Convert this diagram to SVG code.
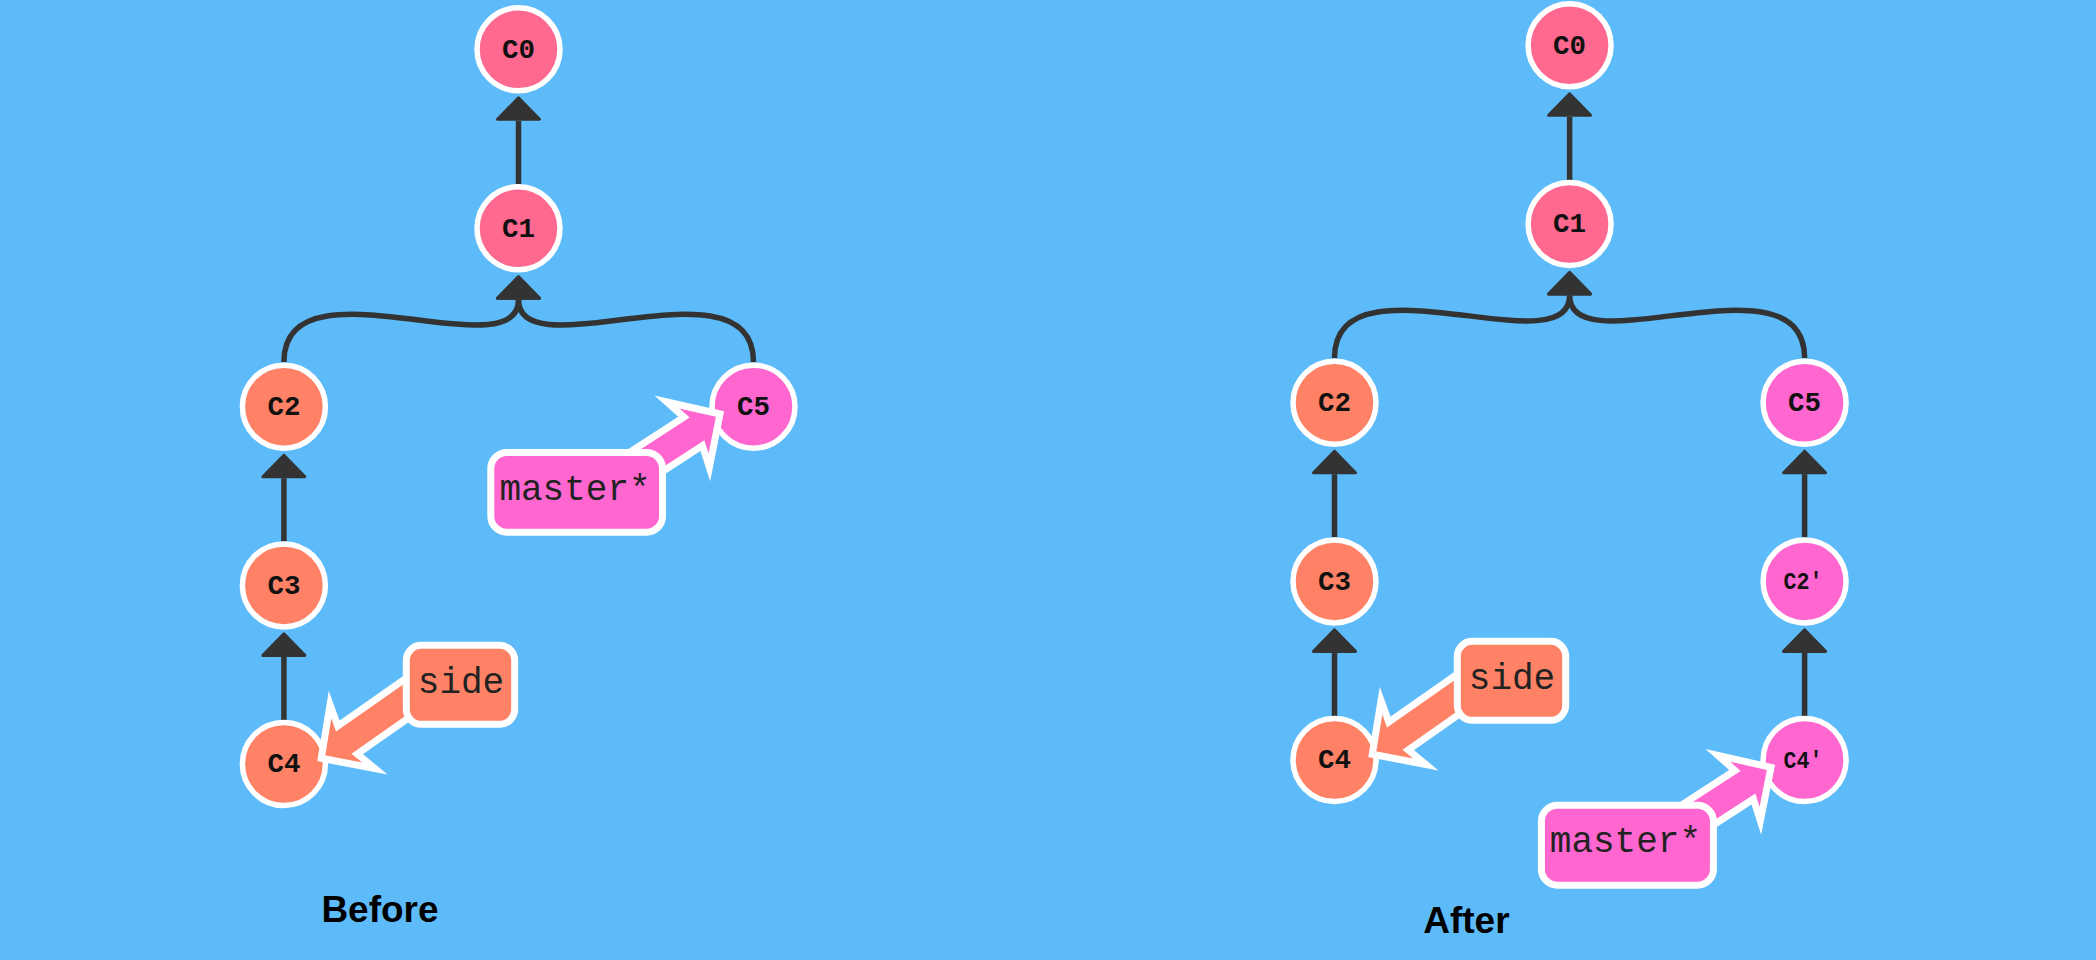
<svg xmlns="http://www.w3.org/2000/svg" width="2096" height="960" viewBox="0 0 2096 960">
  <defs>
    <style>
      .edge { fill: none; stroke: #333333; stroke-width: 5.5; marker-end: url(#ah); }
      .commit { stroke: #ffffff; stroke-width: 5.5; }
      .base { fill: #ff6990; }
      .side { fill: #ff8266; }
      .main { fill: #ff66d0; }
      .clabel { font-family: "Liberation Mono", "DejaVu Sans Mono", monospace; font-weight: bold; font-size: 27px; fill: #111111; text-anchor: middle; }
      .clabel.small { font-size: 23px; }
      .refshape { stroke: #ffffff; stroke-width: 7; stroke-linejoin: miter; }
      .reflabel { font-family: "Liberation Mono", "DejaVu Sans Mono", monospace; font-size: 36px; fill: #222222; text-anchor: middle; }
      .title { font-family: "Liberation Sans", Arial, sans-serif; font-weight: bold; font-size: 37px; fill: #000000; text-anchor: middle; }
    </style>
    <marker id="ah" viewBox="-2 -24 28 48" refX="0" refY="0" markerWidth="28" markerHeight="48" markerUnits="userSpaceOnUse" orient="auto">
      <path d="M 1.5 -21 L 23 0 L 1.5 21 Z" fill="#333333" stroke="#333333" stroke-width="3" stroke-linejoin="round"/>
    </marker>
    <polygon id="refarrow" points="0,0 -38,-39 -32,-17 -160,-17 -160,17 -32,17 -38,39"/>
  </defs>

  <rect x="0" y="0" width="2096" height="960" fill="#5dbbfa"/>

  <g id="connectors">
    <!-- Before -->
    <path class="edge" d="M 518.5 184 L 518.5 120.8"/>
    <path class="edge" d="M 283.9 362 C 283.9 255, 518.5 372, 518.5 299.8"/>
    <path class="edge" d="M 753.5 362 C 753.5 255, 518.5 372, 518.5 299.8"/>
    <path class="edge" d="M 283.9 541.4 L 283.9 478.2"/>
    <path class="edge" d="M 283.9 720 L 283.9 656.9"/>
    <!-- After -->
    <path class="edge" d="M 1569.6 180 L 1569.6 116.8"/>
    <path class="edge" d="M 1334.5 358 C 1334.5 251, 1569.6 368, 1569.6 295.5"/>
    <path class="edge" d="M 1804.6 358 C 1804.6 251, 1569.6 368, 1569.6 295.5"/>
    <path class="edge" d="M 1334.5 537.4 L 1334.5 474.2"/>
    <path class="edge" d="M 1334.5 716 L 1334.5 652.9"/>
    <path class="edge" d="M 1804.6 537.4 L 1804.6 474.2"/>
    <path class="edge" d="M 1804.6 716 L 1804.6 652.9"/>
  </g>

  <!-- Before nodes -->
  <g id="before-C0"><circle class="commit base" cx="518.5" cy="49.3" r="41.5"/><text class="clabel" x="518.5" y="57.5" textLength="33" lengthAdjust="spacingAndGlyphs">C0</text></g>
  <g id="before-C1"><circle class="commit base" cx="518.5" cy="228.3" r="41.5"/><text class="clabel" x="518.5" y="236.5" textLength="33" lengthAdjust="spacingAndGlyphs">C1</text></g>
  <g id="before-C2"><circle class="commit side" cx="283.9" cy="406.7" r="41.5"/><text class="clabel" x="283.9" y="414.9" textLength="33" lengthAdjust="spacingAndGlyphs">C2</text></g>
  <g id="before-C3"><circle class="commit side" cx="283.9" cy="585.4" r="41.5"/><text class="clabel" x="283.9" y="593.6" textLength="33" lengthAdjust="spacingAndGlyphs">C3</text></g>
  <g id="before-C4"><circle class="commit side" cx="283.9" cy="764" r="41.5"/><text class="clabel" x="283.9" y="772.2" textLength="33" lengthAdjust="spacingAndGlyphs">C4</text></g>
  <g id="before-C5"><circle class="commit main" cx="753.5" cy="406.7" r="41.5"/><text class="clabel" x="753.5" y="414.9" textLength="33" lengthAdjust="spacingAndGlyphs">C5</text></g>

  <!-- After nodes -->
  <g id="after-C0"><circle class="commit base" cx="1569.6" cy="45.3" r="41.5"/><text class="clabel" x="1569.6" y="53.5" textLength="33" lengthAdjust="spacingAndGlyphs">C0</text></g>
  <g id="after-C1"><circle class="commit base" cx="1569.6" cy="224" r="41.5"/><text class="clabel" x="1569.6" y="232.2" textLength="33" lengthAdjust="spacingAndGlyphs">C1</text></g>
  <g id="after-C2"><circle class="commit side" cx="1334.5" cy="402.7" r="41.5"/><text class="clabel" x="1334.5" y="410.9" textLength="33" lengthAdjust="spacingAndGlyphs">C2</text></g>
  <g id="after-C3"><circle class="commit side" cx="1334.5" cy="581.4" r="41.5"/><text class="clabel" x="1334.5" y="589.6" textLength="33" lengthAdjust="spacingAndGlyphs">C3</text></g>
  <g id="after-C4"><circle class="commit side" cx="1334.5" cy="760" r="41.5"/><text class="clabel" x="1334.5" y="768.2" textLength="33" lengthAdjust="spacingAndGlyphs">C4</text></g>
  <g id="after-C5"><circle class="commit main" cx="1804.6" cy="402.7" r="41.5"/><text class="clabel" x="1804.6" y="410.9" textLength="33" lengthAdjust="spacingAndGlyphs">C5</text></g>
  <g id="after-C2p"><circle class="commit main" cx="1804.6" cy="581.4" r="41.5"/><text class="clabel small" x="1803" y="589" textLength="39" lengthAdjust="spacingAndGlyphs">C2'</text></g>
  <g id="after-C4p"><circle class="commit main" cx="1804.6" cy="760" r="41.5"/><text class="clabel small" x="1803" y="767.6" textLength="39" lengthAdjust="spacingAndGlyphs">C4'</text></g>

  <!-- Before branch refs -->
  <g id="before-ref-master">
    <use href="#refarrow" class="refshape main" transform="translate(720,414) rotate(-33)"/>
    <rect class="refshape main" x="490.8" y="452.5" width="171.7" height="79.7" rx="16"/>
    <text class="reflabel" x="575" y="499.5">master*</text>
  </g>
  <g id="before-ref-side">
    <use href="#refarrow" class="refshape side" transform="translate(321.3,758.3) rotate(145)"/>
    <rect class="refshape side" x="406.3" y="645.3" width="108.4" height="79" rx="15"/>
    <text class="reflabel" x="461" y="693">side</text>
  </g>

  <!-- After branch refs -->
  <g id="after-ref-side">
    <use href="#refarrow" class="refshape side" transform="translate(1372.3,754.3) rotate(145)"/>
    <rect class="refshape side" x="1457.3" y="641.3" width="108.4" height="79" rx="15"/>
    <text class="reflabel" x="1512" y="689">side</text>
  </g>
  <g id="after-ref-master">
    <use href="#refarrow" class="refshape main" transform="translate(1771,767.3) rotate(-33)"/>
    <rect class="refshape main" x="1541.4" y="805.2" width="172" height="80" rx="16"/>
    <text class="reflabel" x="1625.4" y="851.5">master*</text>
  </g>

  <g id="titles">
    <text class="title" x="380" y="921.7">Before</text>
    <text class="title" x="1466.4" y="932.7">After</text>
  </g>
</svg>
